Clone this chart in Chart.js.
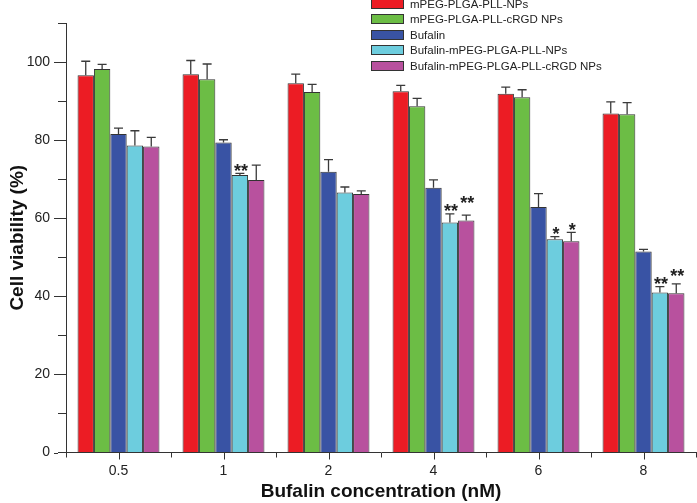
<!DOCTYPE html>
<html>
<head>
    <title>Cell viability</title>
    <script src="https://cdn.jsdelivr.net/npm/chart.js"></script>
    <style>
        body { margin: 0; background: #fff; }
        #wrap { position: relative; width: 697px; height: 503px; }
        #legend { position: absolute; left: 371px; top: -3px; font: 11.5px "Liberation Sans", Arial, sans-serif; color: #222; }
        #legend div { height: 15.4px; line-height: 15.4px; white-space: nowrap; }
        #legend span { display: inline-block; width: 31px; height: 8px; border: 1px solid #333; vertical-align: middle; margin-right: 6px; position: relative; top: -1px; }
    </style>
</head>
<body>
<div id="wrap">
    <canvas id="viabilityChart"></canvas>
    <div id="legend"></div>
</div>
<script>
    const categories = ['0.5', '1', '2', '4', '6', '8'];
    const seriesNames = ['mPEG-PLGA-PLL-NPs', 'mPEG-PLGA-PLL-cRGD NPs', 'Bufalin', 'Bufalin-mPEG-PLGA-PLL-NPs', 'Bufalin-mPEG-PLGA-PLL-cRGD NPs'];
    const seriesColors = ['#EC1C24', '#6CBD45', '#3953A4', '#6DCDDE', '#B8519E'];

    const npValues = [96.6, 96.9, 94.6, 92.5, 91.9, 86.8];
    const npErrors = [3.6, 3.5, 2.3, 1.5, 1.7, 3.0];
    const rgdValues = [98.2, 95.6, 92.3, 88.7, 91.0, 86.6];
    const rgdErrors = [1.2, 3.9, 2.0, 2.0, 1.9, 3.0];
    const bufValues = [81.6, 79.4, 71.9, 67.8, 62.9, 51.5];
    const bufErrors = [1.5, 0.7, 3.1, 2.0, 3.4, 0.5];
    const bufNpValues = [78.6, 71.1, 66.6, 58.9, 54.6, 41.0];
    const bufNpErrors = [3.8, 0.4, 1.4, 2.2, 0.7, 1.5];
    const bufRgdValues = [78.4, 69.8, 66.2, 59.4, 54.1, 40.8];
    const bufRgdErrors = [2.3, 3.8, 0.8, 1.4, 2.3, 2.4];

    const bufNpStars = ['', '**', '', '**', '*', '**'];
    const bufRgdStars = ['', '', '', '**', '*', '**'];

    const allValues = [npValues, rgdValues, bufValues, bufNpValues, bufRgdValues];
    const allErrors = [npErrors, rgdErrors, bufErrors, bufNpErrors, bufRgdErrors];
    const allStars = [null, null, null, bufNpStars, bufRgdStars];

    const FONT = '"Liberation Sans", Arial, sans-serif';
    const INK = '#333';

    // upper error whiskers + significance stars
    const errorBars = {
        id: 'errorBars',
        afterDatasetsDraw(chart) {
            const ctx = chart.ctx;
            const y = chart.scales.y;
            ctx.save();
            ctx.strokeStyle = '#3a3a3a';
            ctx.lineWidth = 1.3;
            const starY = {};
            chart.data.datasets.forEach((ds, i) => {
                const meta = chart.getDatasetMeta(i);
                meta.data.forEach((bar, j) => {
                    const top = y.getPixelForValue(allValues[i][j] + allErrors[i][j]);
                    ctx.beginPath();
                    ctx.moveTo(bar.x, bar.y);
                    ctx.lineTo(bar.x, top);
                    ctx.moveTo(bar.x - 4.5, top);
                    ctx.lineTo(bar.x + 4.5, top);
                    ctx.stroke();

                    const stars = allStars[i] ? allStars[i][j] : '';
                    if (stars) {
                        let c = top - 7;
                        const prev = starY[j];
                        if (prev !== undefined && stars === '**' && c > prev - 8) c = prev - 8;
                        starY[j] = c;
                        ctx.fillStyle = '#222';
                        ctx.font = 'bold 18px ' + FONT;
                        ctx.textAlign = 'center';
                        ctx.textBaseline = 'alphabetic';
                        ctx.fillText(stars, bar.x + 1, c + 10.4);
                    }
                });
            });
            ctx.restore();
        }
    };

    // centre ticks on x, longer major ticks on y
    const axisTicks = {
        id: 'axisTicks',
        afterDraw(chart) {
            const ctx = chart.ctx;
            const x = chart.scales.x;
            const y = chart.scales.y;
            ctx.save();
            ctx.strokeStyle = INK;
            ctx.lineWidth = 1;
            ctx.beginPath();
            categories.forEach((c, i) => {
                const px = Math.round(x.getPixelForValue(i)) + 0.5;
                ctx.moveTo(px, x.top);
                ctx.lineTo(px, x.top + 7);
            });
            for (let v = 0; v <= 100; v += 20) {
                const py = Math.round(y.getPixelForValue(v)) + 0.5;
                ctx.moveTo(y.right - 8, py);
                ctx.lineTo(y.right - 12, py);
            }
            ctx.stroke();
            ctx.restore();
        }
    };

    const datasets = seriesNames.map((name, i) => ({
        label: name,
        data: allValues[i],
        backgroundColor: seriesColors[i],
        borderColor: INK,
        borderWidth: 1,
        borderSkipped: 'bottom',
        barPercentage: 1,
        categoryPercentage: 0.78
    }));

    new Chart(document.getElementById('viabilityChart').getContext('2d'), {
        type: 'bar',
        data: { labels: categories, datasets: datasets },
        options: {
            responsive: true,
            maintainAspectRatio: false,
            animation: false,
            layout: { padding: { top: 23, right: 1, left: 0, bottom: 0 } },
            plugins: {
                legend: { display: false },
                tooltip: { enabled: false }
            },
            scales: {
                x: {
                    afterFit(scale) { scale.height = 50.5; },
                    grid: { display: true, drawOnChartArea: false, drawTicks: true, tickLength: 5, color: INK, offset: true },
                    border: { color: INK, width: 1 },
                    ticks: { color: '#222', font: { family: FONT, size: 14 }, padding: 5 },
                    title: { display: true, text: 'Bufalin concentration (nM)', color: '#111',
                        font: { family: FONT, size: 19, weight: 'bold', lineHeight: 1 }, padding: { top: 0, bottom: 2 } }
                },
                y: {
                    min: 0,
                    max: 110,
                    afterFit(scale) { scale.width = 66; },
                    grid: { display: true, drawOnChartArea: false, drawTicks: true, tickLength: 8, color: INK },
                    border: { color: INK, width: 1 },
                    ticks: {
                        stepSize: 10,
                        color: '#222',
                        font: { family: FONT, size: 14 },
                        padding: 8,
                        callback: v => (v % 20 === 0 && v <= 100) ? v : ''
                    },
                    title: { display: true, text: 'Cell viability (%)', color: '#111',
                        font: { family: FONT, size: 19, weight: 'bold', lineHeight: 1 }, padding: { top: 8, bottom: 0 } }
                }
            }
        },
        plugins: [errorBars, axisTicks]
    });

    const legend = document.getElementById('legend');
    seriesNames.forEach((name, i) => {
        const row = document.createElement('div');
        const box = document.createElement('span');
        box.style.background = seriesColors[i];
        row.appendChild(box);
        row.appendChild(document.createTextNode(name));
        legend.appendChild(row);
    });
</script>
</body>
</html>
